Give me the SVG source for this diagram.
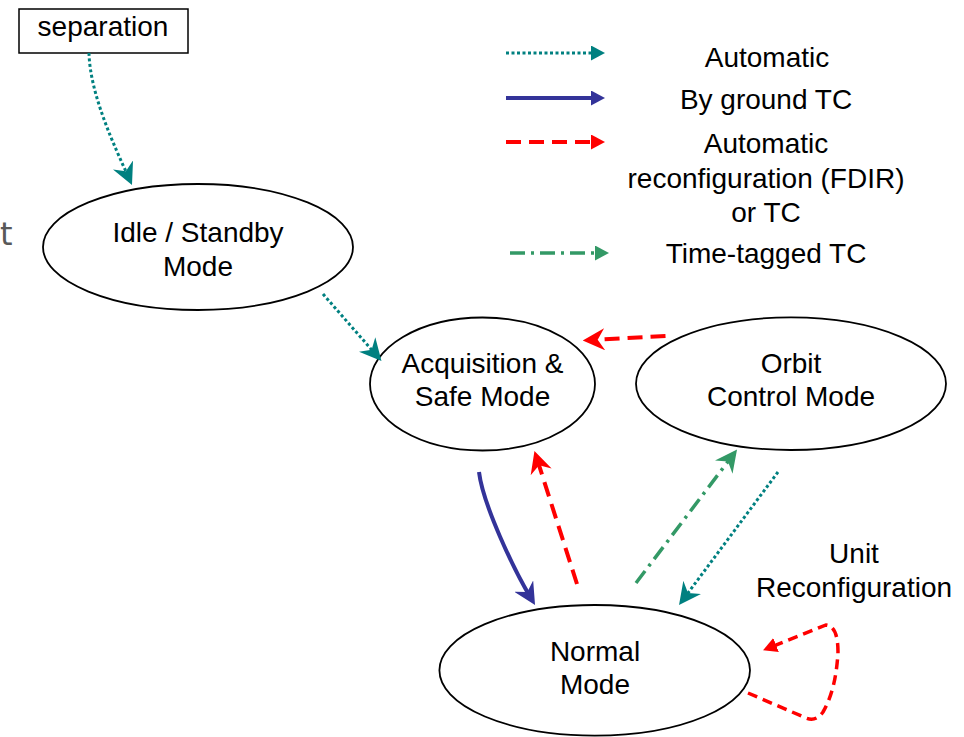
<svg xmlns="http://www.w3.org/2000/svg" width="964" height="737" viewBox="0 0 964 737">
<style>
text{font-family:"Liberation Sans",Arial,sans-serif;font-size:28px;fill:#000;text-anchor:middle}
.node{fill:#fff;stroke:#000;stroke-width:1.8}
.auto{fill:none;stroke:#008080;stroke-width:3;stroke-dasharray:3 2.5}
.tc{fill:none;stroke:#333399;stroke-width:4}
.fdir{fill:none;stroke:#ff0000;stroke-width:4;stroke-dasharray:15 8}
.loop{fill:none;stroke:#ff0000;stroke-width:3.5;stroke-dasharray:10 6}
.tt{fill:none;stroke:#339966;stroke-width:3.5;stroke-dasharray:15 6 3 6}
</style>
<defs>
<marker id="sTeal" markerUnits="userSpaceOnUse" viewBox="0 0 22 22" markerWidth="22" markerHeight="22" refX="12" refY="11" orient="auto"><path d="M0,0 L22,11 L0,22 L7,11 z" fill="#008080"/></marker>
<marker id="sNavy" markerUnits="userSpaceOnUse" viewBox="0 0 22 22" markerWidth="22" markerHeight="22" refX="12" refY="11" orient="auto"><path d="M0,0 L22,11 L0,22 L7,11 z" fill="#333399"/></marker>
<marker id="sRed" markerUnits="userSpaceOnUse" viewBox="0 0 22 22" markerWidth="22" markerHeight="22" refX="12" refY="11" orient="auto"><path d="M0,0 L22,11 L0,22 L7,11 z" fill="#ff0000"/></marker>
<marker id="sGreen" markerUnits="userSpaceOnUse" viewBox="0 0 22 22" markerWidth="22" markerHeight="22" refX="12" refY="11" orient="auto"><path d="M0,0 L22,11 L0,22 L7,11 z" fill="#339966"/></marker>
<marker id="tTeal" markerUnits="userSpaceOnUse" viewBox="0 0 14 15" markerWidth="14" markerHeight="15" refX="6" refY="7.5" orient="auto"><path d="M0,0 L14,7.5 L0,15 z" fill="#008080"/></marker>
<marker id="tNavy" markerUnits="userSpaceOnUse" viewBox="0 0 14 15" markerWidth="14" markerHeight="15" refX="6" refY="7.5" orient="auto"><path d="M0,0 L14,7.5 L0,15 z" fill="#333399"/></marker>
<marker id="tRed" markerUnits="userSpaceOnUse" viewBox="0 0 14 15" markerWidth="14" markerHeight="15" refX="6" refY="7.5" orient="auto"><path d="M0,0 L14,7.5 L0,15 z" fill="#ff0000"/></marker>
<marker id="tGreen" markerUnits="userSpaceOnUse" viewBox="0 0 14 15" markerWidth="14" markerHeight="15" refX="6" refY="7.5" orient="auto"><path d="M0,0 L14,7.5 L0,15 z" fill="#339966"/></marker>
</defs>
<rect width="964" height="737" fill="#fff"/>
<text x="0" y="245" style="font-family:'DejaVu Sans',sans-serif;font-size:32px;fill:#595959;text-anchor:start">t</text>
<g id="legend">
<path class="auto" d="M506,53 L597,53" marker-end="url(#tTeal)"/>
<text x="767" y="67">Automatic</text>
<path class="tc" d="M506,98 L597,98" marker-end="url(#tNavy)"/>
<text x="766" y="109">By ground TC</text>
<path class="fdir" d="M506,142 L597,142" marker-end="url(#tRed)"/>
<text x="766" y="153">Automatic</text>
<text x="766" y="188">reconfiguration (FDIR)</text>
<text x="766" y="222">or TC</text>
<path class="tt" d="M510,253 L601,253" marker-end="url(#tGreen)"/>
<text x="766" y="263">Time-tagged TC</text>
</g>
<g id="separation">
<rect x="19" y="9" width="169" height="44" fill="#fff" stroke="#000" stroke-width="1.5"/>
<text x="103" y="36">separation</text>
</g>
<g id="idle">
<ellipse class="node" cx="198" cy="247" rx="155" ry="63"/>
<text x="198" y="242">Idle / Standby</text>
<text x="198" y="276">Mode</text>
</g>
<g id="acquisition">
<ellipse class="node" cx="482.5" cy="384" rx="112.5" ry="66.5"/>
<text x="482.5" y="372.5">Acquisition &amp;</text>
<text x="482.5" y="406">Safe Mode</text>
</g>
<g id="orbit">
<ellipse class="node" cx="791" cy="383.7" rx="155" ry="66.3"/>
<text x="791" y="372.5">Orbit</text>
<text x="791" y="405.5">Control Mode</text>
</g>
<g id="normal">
<ellipse class="node" cx="594.7" cy="670.3" rx="155.3" ry="65.3"/>
<text x="595" y="661">Normal</text>
<text x="595" y="694">Mode</text>
</g>
<text x="854" y="563">Unit</text>
<text x="854" y="597">Reconfiguration</text>
<g id="connectors">
<path class="auto" d="M89,53 C90,95 115.6,148.5 127.9,175.9" marker-end="url(#sTeal)"/>
<path class="auto" d="M323,294 L374.9,353.5" marker-end="url(#sTeal)"/>
<path class="fdir" d="M665.5,336 L592.7,340" marker-end="url(#sRed)"/>
<path class="tc" d="M479,472 C483,505 514.5,570.7 529.9,596.4" marker-end="url(#sNavy)"/>
<path class="fdir" d="M577,584 L537.5,460.5" marker-end="url(#sRed)"/>
<path class="tt" d="M636,583 L731,457.5" marker-end="url(#sGreen)"/>
<path class="auto" d="M778,472 L685,597" marker-end="url(#sTeal)"/>
<path class="loop" d="M748,693 L806,718 Q816,722 823,712 Q836,690 838,652 Q838,626 826,625 L770.5,647.2" marker-end="url(#tRed)"/>
</g>
</svg>
